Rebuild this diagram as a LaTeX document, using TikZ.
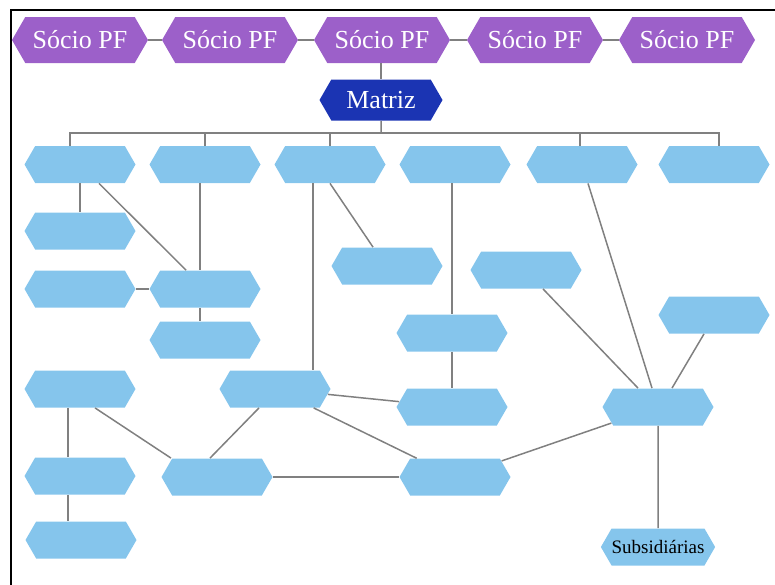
\documentclass[tikz,border=0pt]{standalone}
\usepackage{fontspec}
\setmainfont{Liberation Serif}
\usetikzlibrary{shapes.symbols}

\definecolor{roxo}{HTML}{9C60C9}
\definecolor{azulescuro}{HTML}{1B34B3}
\definecolor{azulclaro}{HTML}{85C5EC}
\definecolor{linha}{HTML}{808080}

\tikzset{
  hexa/.style={signal, signal to=east and west, signal pointer angle=120, inner sep=0pt, draw=none},
  socio/.style={hexa, fill=roxo, text=white, minimum width=68pt, minimum height=23pt, font=\fontsize{13}{15}\selectfont},
  matriz/.style={hexa, fill=azulescuro, text=white, minimum width=61.5pt, minimum height=20.5pt, font=\fontsize{13}{15}\selectfont},
  caixa/.style={hexa, fill=azulclaro, minimum width=55.5pt, minimum height=18.5pt, font=\fontsize{9.5}{11}\selectfont},
  liga/.style={draw=linha, line width=0.75pt},
}

\begin{document}
\begin{tikzpicture}[x=0.5pt, y=-0.5pt]
    \useasboundingbox (0,0) rectangle (775,584);
    % frame
    \draw[line width=1pt] (11,590) -- (11,10) -- (780,10);

    % Socios PF
    \node[socio] (s1) at (80,40) {Sócio PF};
    \node[socio] (s2) at (230,40) {Sócio PF};
    \node[socio] (s3) at (382,40) {Sócio PF};
    \node[socio] (s4) at (535,40) {Sócio PF};
    \node[socio] (s5) at (687,40) {Sócio PF};
    \draw[liga] (s1.east) -- (s2.west);
    \draw[liga] (s2.east) -- (s3.west);
    \draw[liga] (s3.east) -- (s4.west);
    \draw[liga] (s4.east) -- (s5.west);

    % Matriz
    \node[matriz] (matriz) at (381,100) {Matriz};
    \draw[liga] (matriz.north |- s3.south) -- (matriz.north);

    % first level
    \node[caixa] (a1) at (80,164.5) {};
    \node[caixa] (a2) at (205,164.5) {};
    \node[caixa] (a3) at (330,164.5) {};
    \node[caixa] (a4) at (455,164.5) {};
    \node[caixa] (a5) at (582,164.5) {};
    \node[caixa] (a6) at (714,164.5) {};

    \coordinate (barra) at (381,133);
    \draw[liga] (matriz) -- (barra);
    \draw[liga] ([xshift=-5pt]a1.north) |- ([xshift=2.5pt]a6.north |- barra) -- ([xshift=2.5pt]a6.north);
    \draw[liga] (a2.north) -- (a2.north |- barra);
    \draw[liga] (a3.north) -- (a3.north |- barra);
    \draw[liga] ([xshift=-1pt]a5.north) -- ([xshift=-1pt]a5.north |- barra);

    % left side
    \node[caixa] (b1) at (80,231) {};
    \node[caixa] (c1) at (80,289) {};
    \node[caixa] (c2) at (205,289) {};
    \node[caixa] (d2) at (205,340) {};
    \draw[liga] (a1) -- (b1);
    \draw[liga] (a1) -- (c2);
    \draw[liga] ([xshift=-2.5pt]a2.south) -- ([xshift=-2.5pt]c2.north);
    \draw[liga] (c1) -- (c2);
    \draw[liga] ([xshift=-2.5pt]c2.south) -- ([xshift=-2.5pt]d2.north);

    % middle
    \node[caixa] (b3) at (387,266) {};
    \node[caixa] (f4) at (452,333) {};
    \node[caixa] (g4) at (452,407) {};
    \node[caixa] (e2) at (275,389) {};
    \draw[liga] (a3.south) -- ([xshift=-7pt]b3.north);
    \draw[liga] ([xshift=-8.5pt]a3.south) -- ([xshift=-8.5pt]a3.south |- e2.north);
    \draw[liga] (f4.north |- a4.south) -- (f4.north);
    \draw[liga] (f4) -- (g4);

    % bottom left
    \node[caixa] (e1) at (80,389) {};
    \node[caixa] (f1) at (80,476) {};
    \node[caixa] (g1) at (81,540) {};
    \node[caixa] (f2) at (217,477) {};
    \node[caixa] (i4) at (455,477) {};
    \draw[liga] ([xshift=-6pt]e1.south) -- ([xshift=-6pt]f1.north);
    \draw[liga] ([xshift=-6pt]f1.south) -- ([xshift=-6.5pt]g1.north);
    \draw[liga] ([xshift=7.5pt]e1.south) -- ([xshift=-23pt]f2.north);
    \draw[liga] ([xshift=-8pt]e2.south) -- ([xshift=-3.5pt]f2.north);
    \draw[liga] (f2) -- (i4);
    \draw[liga] (e2) -- (g4);
    \draw[liga] (e2) -- (i4);

    % right side
    \node[caixa] (b5) at (526,270) {};
    \node[caixa] (d6) at (714,315) {};
    \node[caixa] (h) at (658,407) {};
    \node[caixa] (sub) at (658,547) {Subsidiárias};
    \draw[liga] ([xshift=3pt]a5.south) -- ([xshift=-3pt]h.north);
    \draw[liga] ([xshift=8.5pt]b5.south) -- ([xshift=-10pt]h.north);
    \draw[liga] ([xshift=-5pt]d6.south) -- ([xshift=7pt]h.north);
    \draw[liga] (h) -- (i4);
    \draw[liga] (h) -- (sub);
\end{tikzpicture}
\end{document}
